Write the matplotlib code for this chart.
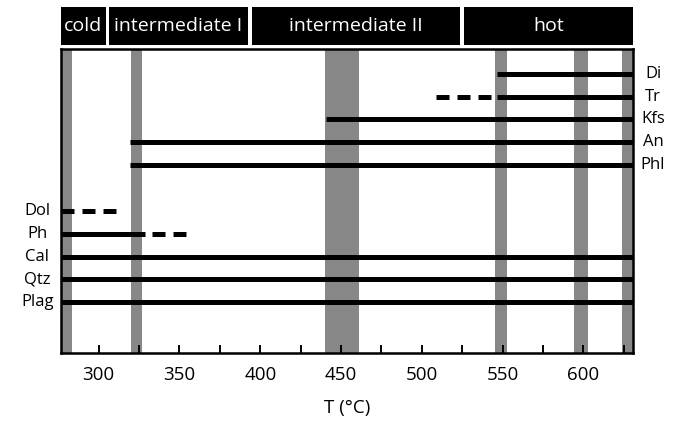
import matplotlib
matplotlib.use("Agg")
import matplotlib.pyplot as plt
import matplotlib.transforms as mtransforms

plt.rcParams['font.family'] = ['Open Sans', 'DejaVu Sans']

# data
t_min, t_max = 276.5, 631.0

zones = ['cold', 'intermediate I', 'intermediate II', 'hot']
zone_start = [276.5, 306.4, 394.9, 525.9]
zone_end = [304.6, 392.2, 523.8, 631.0]

band_start = [276.5, 319.7, 440.0, 545.2, 594.3, 623.9]
band_end = [283.4, 326.7, 461.4, 552.7, 602.7, 631.0]

right_minerals = ['Di', 'Tr', 'Kfs', 'An', 'Phl']
right_rows = [0, 1, 2, 3, 4]
right_start = [546.3, 546.3, 440.5, 319.5, 319.5]

left_minerals = ['Dol', 'Ph', 'Cal', 'Qtz', 'Plag']
left_rows = [6, 7, 8, 9, 10]
left_end = [None, 328.9, t_max, t_max, t_max]

# uncertain (dashed) ranges
dash_minerals = ['Tr', 'Dol', 'Ph']
dash_rows = [1, 6, 7]
dash_start = [508.6, 276.5, 333.0]
dash_end = [543.5, 311.0, 354.5]

ticks_major = [300, 350, 400, 450, 500, 550, 600]
ticks_minor = [325, 375, 425, 475, 525, 575, 625]

fig = plt.figure(figsize=(6.83, 4.21), dpi=100)
ax = fig.add_axes([60.7 / 683, 1 - 353 / 421, (633.5 - 60.7) / 683, (353 - 49.3) / 421])

grey = '#878787'
for s, e in zip(band_start, band_end):
    ax.axvspan(s, e, color=grey, lw=0, zorder=1)

lw = 3.6
for r, s in zip(right_rows, right_start):
    ax.plot([s, t_max], [r, r], color='black', lw=lw, solid_capstyle='butt', zorder=3)
for r, e in zip(left_rows, left_end):
    if e is not None:
        ax.plot([t_min, e], [r, r], color='black', lw=lw, solid_capstyle='butt', zorder=3)

on, off = 13 * 0.72 / lw, 8 * 0.72 / lw
for r, s, e in zip(dash_rows, dash_start, dash_end):
    ax.plot([s, e], [r, r], color='black', lw=lw, linestyle=(0, (on, off)),
            dash_capstyle='butt', zorder=3)

# mineral labels
for name, r in zip(right_minerals, right_rows):
    ax.text(1.034, r, name, transform=ax.get_yaxis_transform(), ha='center', va='center',
            fontsize=12)
for name, r in zip(left_minerals, left_rows):
    ax.text(-0.041, r, name, transform=ax.get_yaxis_transform(), ha='center', va='center',
            fontsize=12)

# zone header
trans = mtransforms.blended_transform_factory(ax.transData, ax.transAxes)
y0, y1 = 1.0141, 1.138
for name, s, e in zip(zones, zone_start, zone_end):
    ax.add_patch(plt.Rectangle((s, y0), e - s, y1 - y0, transform=trans, facecolor='black',
                               edgecolor='none', clip_on=False))
    ax.text((s + e) / 2, (y0 + y1) / 2, name, transform=trans, color='white',
            ha='center', va='center', fontsize=14)

ax.set_xlim(t_min, t_max)
ax.set_ylim(12.22, -1.07)
ax.set_yticks([])
ax.set_xticks(ticks_major)
ax.set_xticks(ticks_minor, minor=True)
ax.tick_params(axis='x', which='both', direction='in', length=5.8, width=1.4, pad=9,
               labelsize=13.5, top=False)
for sp in ax.spines.values():
    sp.set_linewidth(1.8)
    sp.set_zorder(4)

fig.text((60.7 + 633.5) / 2 / 683, 1 - 408 / 421, 'T (°C)', ha='center', va='center',
         fontsize=13.5)

fig.savefig('out.png', dpi=100)
